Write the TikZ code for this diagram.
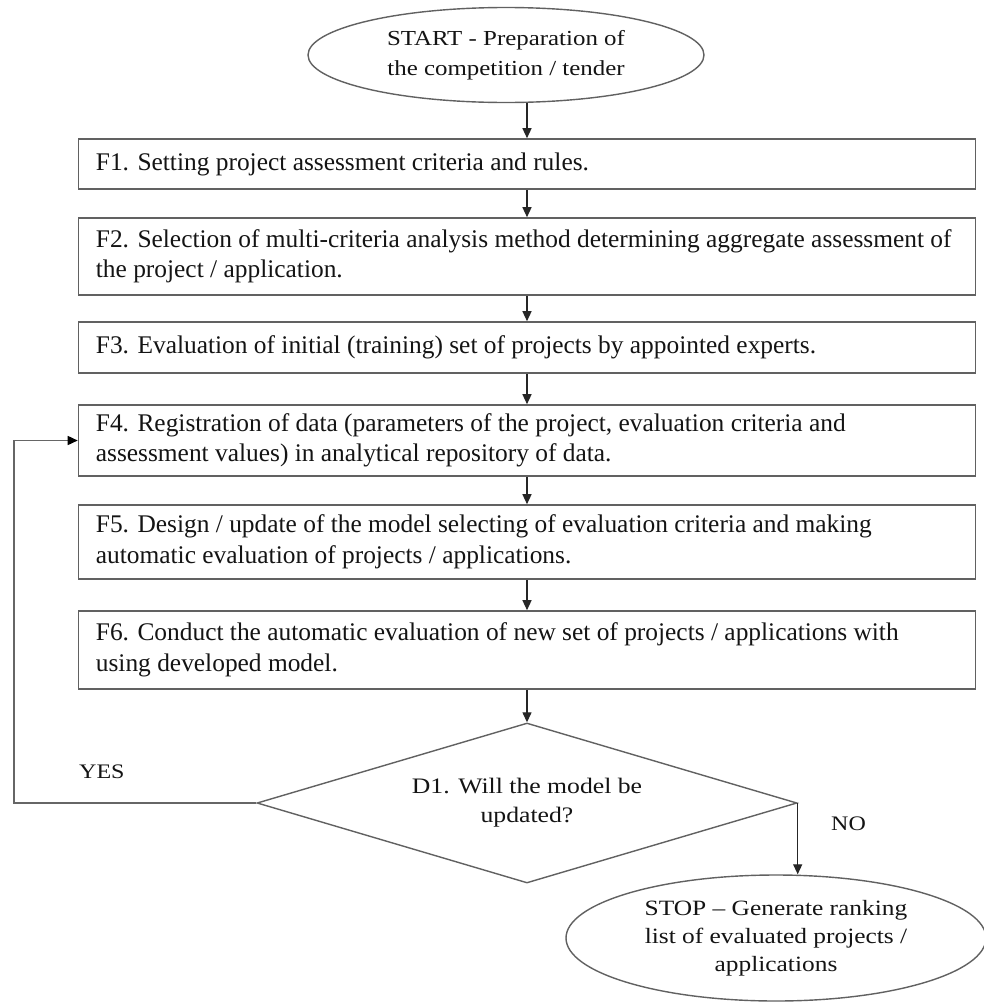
\documentclass[tikz,border=0pt]{standalone}
\usepackage{fontspec}
\setmainfont{Liberation Serif}
\usetikzlibrary{shapes.geometric,arrows.meta}
\newcommand{\vsq}[1]{\scalebox{1}[0.86]{#1}}
\begin{document}
\begin{tikzpicture}[x=1pt,y=-1pt,
  boxshape/.style={draw=black!62, line width=1.6pt, rectangle, minimum width=897pt, inner sep=0pt},
  boxtext/.style={anchor=west, align=left, inner sep=0pt, text=black!92, font=\fontsize{25.4}{30.5}\selectfont},
  terminal/.style={draw=black!62, line width=1.4pt, ellipse, inner sep=0pt, align=center, text=black!92},
  decision/.style={draw=black!62, line width=1.4pt, diamond, aspect=3.375, minimum width=540pt, minimum height=160pt, inner sep=0pt, align=center, text=black!92, font=\fontsize{25.7}{29}\selectfont},
  arr/.style={draw=black!85, line width=1.3pt, -{Triangle[length=10pt,width=9pt]}},
  loopline/.style={draw=black!60, line width=1.6pt, -{Triangle[length=10pt,width=9pt,color=black]}},
  lbl/.style={inner sep=0pt, anchor=base west, text=black!92, font=\fontsize{24}{28}\selectfont}
]
\useasboundingbox (0,0) rectangle (984,1004);
\fill[white] (0,0) rectangle (984,1004);

\node[terminal, minimum width=396pt, minimum height=95pt, font=\fontsize{24.9}{30}\selectfont] (start) at (506,55) {\vsq{START - Preparation of}\\\vsq{the competition / tender}};

\node[boxshape, minimum height=50pt] (f1) at (527,164) {};
\node[boxtext] (t1) at ([xshift=18pt]f1.west) {F1. Setting project assessment criteria and rules.};

\node[boxshape, minimum height=77pt] (f2) at (527,256.5) {};
\node[boxtext] (t2) at ([xshift=18pt]f2.west) {F2. Selection of multi-criteria analysis method determining aggregate assessment of\\the project / application.};

\node[boxshape, minimum height=51pt] (f3) at (527,347.5) {};
\node[boxtext] (t3) at ([xshift=18pt]f3.west) {F3. Evaluation of initial (training) set of projects by appointed experts.};

\node[boxshape, minimum height=71pt] (f4) at (527,440.5) {};
\node[boxtext] (t4) at ([xshift=18pt]f4.west) {F4. Registration of data (parameters of the project, evaluation criteria and\\assessment values) in analytical repository of data.};

\node[boxshape, minimum height=74pt] (f5) at (527,542) {};
\node[boxtext] (t5) at ([xshift=18pt]f5.west) {F5. Design / update of the model selecting of evaluation criteria and making\\automatic evaluation of projects / applications.};

\node[boxshape, minimum height=78pt] (f6) at (527,650) {};
\node[boxtext] (t6) at ([xshift=18pt]f6.west) {F6. Conduct the automatic evaluation of new set of projects / applications with\\using developed model.};

\node[decision] (d1) at (527,803) {\vsq{D1. Will the model be}\\\vsq{updated?}};

\node[terminal, minimum width=420pt, minimum height=126pt, font=\fontsize{25.4}{28}\selectfont] (stop) at (776,938) {\vsq{STOP – Generate ranking}\\\vsq{list of evaluated projects /}\\\vsq{applications}};

\draw[arr] (start.south -| f1.north) -- (f1.north);
\draw[arr] (f1.south) -- (f2.north);
\draw[arr] (f2.south) -- (f3.north);
\draw[arr] (f3.south) -- (f4.north);
\draw[arr] (f4.south) -- (f5.north);
\draw[arr] (f5.south) -- (f6.north);
\draw[arr] (f6.south) -- (d1.north);
\coordinate (turn) at (14,803);
\draw[loopline] (d1.west) -- (turn) |- (f4.west);
\draw[arr] (d1.east) -- (d1.east |- stop.north);

\node[lbl] (yes) at (79,778) {\vsq{YES}};
\node[lbl] (no) at (831,830) {\vsq{NO}};
\end{tikzpicture}
\end{document}
